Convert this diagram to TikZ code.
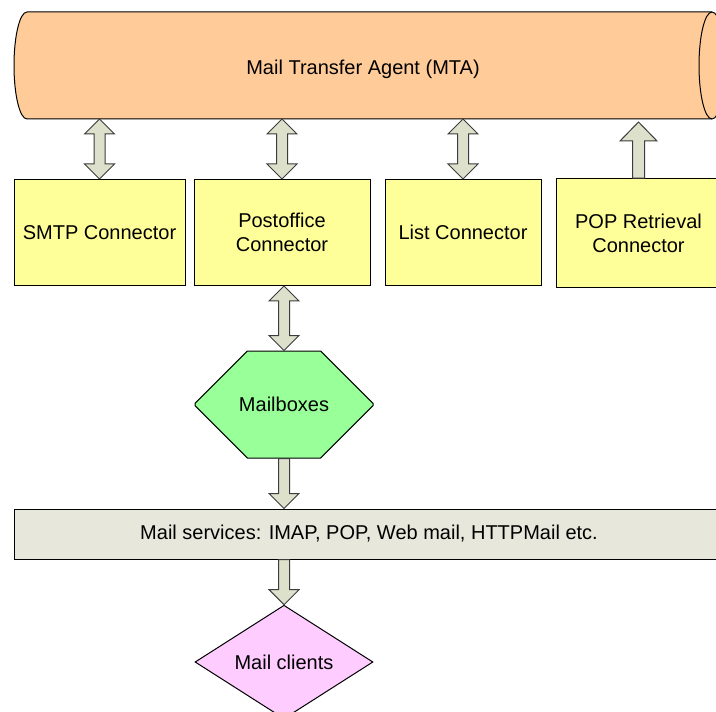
\documentclass[tikz,border=0pt]{standalone}
\usepackage{fontspec}
\setmainfont{Liberation Sans}
\usetikzlibrary{calc,positioning,shapes.geometric,shapes.misc}

\definecolor{mtapeach}{HTML}{FFCC99}
\definecolor{connyellow}{HTML}{FFFF99}
\definecolor{mboxgreen}{HTML}{99FF99}
\definecolor{svcgray}{HTML}{E7E8DB}
\definecolor{clientpink}{HTML}{FFCCFF}
\definecolor{arrowfill}{HTML}{DDE0CB}
\definecolor{arrowline}{HTML}{3C3C3C}

\begin{document}
\begin{tikzpicture}[x=0.75pt,y=0.75pt,font=\fontsize{15}{18}\selectfont]
  \tikzstyle{conn}=[draw,fill=connyellow,line width=0.75pt,align=center,inner sep=0pt,minimum height=79.5pt]
  % block arrows, drawn as closed outlines from one node to the next
  \tikzstyle{dblarrow}=[draw=arrowline,fill=arrowfill,line width=0.75pt,to path={
    -- ++(15,15) -- ++(-9.5,0) -- ($(\tikztotarget)+(5.5,-15)$) -- ++(9.5,0) -- (\tikztotarget)
    -- ++(-15,-15) -- ++(9.5,0) -- ($(\tikztostart)+(-5.5,15)$) -- ++(-9.5,0) -- cycle}]
  \tikzstyle{downarrow}=[draw=arrowline,fill=arrowfill,line width=0.75pt,to path={
    ++(-5.5,0) -- ($(\tikztotarget)+(-5.5,15)$) -- ++(-9.5,0) -- (\tikztotarget)
    -- ++(15,15) -- ++(-9.5,0) -- ($(\tikztostart)+(5.5,0)$) -- cycle}]
  \tikzstyle{uparrow}=[draw=arrowline,fill=arrowfill,line width=0.75pt,to path={
    ++(-6,0) -- ($(\tikztotarget)+(-6,-19)$) -- ++(-12.5,0) -- (\tikztotarget)
    -- ++(18.5,-19) -- ++(-12.5,0) -- ($(\tikztostart)+(6,0)$) -- cycle}]

  \clip (0,0) rectangle (716,711);

  % the MTA cylinder, lying on its side
  \draw[fill=mtapeach,line width=0.75pt] (27,699) -- (712,699)
    arc[start angle=90,end angle=-90,x radius=13,y radius=53.5] -- (27,592)
    arc[start angle=270,end angle=90,x radius=13,y radius=53.5] -- cycle;
  \draw[line width=0.75pt] (712,699) arc[start angle=90,end angle=270,x radius=13,y radius=53.5];
  \node (mta) at (363,642) {Mail Transfer Agent (MTA)};
  \coordinate (mtabase) at (363,592);

  % connectors
  \node[conn,minimum width=128.25pt] (smtp) at (99.5,478.5) {SMTP Connector};
  \node[conn,minimum width=132pt,right=6pt of smtp] (post) {Postoffice\\Connector};
  \node[conn,minimum width=117pt,right=10.5pt of post] (list) {List Connector};
  \node[conn,minimum width=123.75pt,minimum height=81.75pt,right=10.5pt of list,yshift=-0.5pt] (pop) {POP Retrieval\\Connector};

  \draw[dblarrow] (smtp.north) to (smtp.north |- mtabase);
  \draw[dblarrow] (post.north) to (post.north |- mtabase);
  \draw[dblarrow] (list.north) to (list.north |- mtabase);
  \draw[uparrow] (pop.north) to ($(pop.north |- mtabase)+(0,-3)$);

  % mail store and access
  \node[shape=chamfered rectangle,chamfered rectangle xsep=26.25pt,chamfered rectangle ysep=40.125pt,
    draw,fill=mboxgreen,line width=0.75pt,inner sep=0pt,minimum width=133.5pt,minimum height=80.25pt]
    (mbox) at (284,306.5) {Mailboxes};
  \draw[dblarrow] (mbox.north) to (mbox.north |- post.south);

  \node[draw,fill=svcgray,line width=0.75pt,inner sep=0pt,minimum width=532.5pt,minimum height=37.5pt]
    (svc) at (369,177) {Mail services: IMAP, POP, Web mail, HTTPMail etc.};
  \draw[downarrow] (mbox.south) to (mbox.south |- svc.north);

  \node[diamond,draw,fill=clientpink,line width=0.75pt,inner sep=0pt,minimum width=133.5pt,minimum height=79.5pt]
    (clients) at (284,49) {Mail clients};
  \draw[downarrow] (svc.south -| clients.north) to (clients.north);
\end{tikzpicture}
\end{document}
